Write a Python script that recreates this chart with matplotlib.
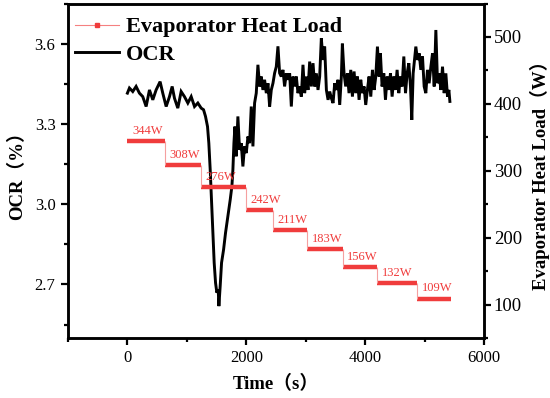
import matplotlib
matplotlib.use("Agg")
import matplotlib.pyplot as plt
from matplotlib.lines import Line2D
from matplotlib.ticker import MultipleLocator

# OCR trace
time_s = [0, 34, 90, 146, 202, 258, 315, 371, 427, 483, 550, 595, 652, 708, 753,
          792, 848, 904, 960, 1017, 1073, 1129, 1185, 1241, 1281, 1314, 1348, 1370,
          1393, 1415, 1438, 1460, 1483, 1505, 1528, 1539, 1561, 1584, 1618, 1651,
          1691, 1730, 1758, 1775, 1792, 1809, 1831, 1859, 1887, 1915, 1943, 1971,
          2000, 2028, 2056, 2084, 2112, 2140, 2168, 2196, 2224, 2252, 2280, 2308,
          2337, 2365, 2393, 2421, 2449, 2477, 2505, 2533, 2561, 2589, 2617, 2645,
          2674, 2702, 2730, 2758, 2786, 2814, 2842, 2870, 2898, 2926, 2954, 2982,
          3011, 3039, 3067, 3095, 3123, 3151, 3179, 3207, 3235, 3263, 3291, 3319,
          3348, 3376, 3404, 3432, 3460, 3488, 3516, 3544, 3572, 3600, 3617, 3645,
          3673, 3701, 3729, 3758, 3786, 3814, 3842, 3870, 3898, 3926, 3954, 3982,
          4010, 4038, 4066, 4095, 4123, 4151, 4179, 4207, 4235, 4257, 4285, 4314,
          4342, 4370, 4398, 4426, 4454, 4482, 4510, 4538, 4566, 4594, 4622, 4651,
          4679, 4707, 4735, 4763, 4785, 4808, 4836, 4853, 4881, 4909, 4937, 4965,
          4993, 5021, 5049, 5077, 5106, 5134, 5162, 5190, 5218, 5246, 5274, 5302,
          5330, 5358, 5386, 5409, 5426]
ocr = [3.415, 3.434, 3.421, 3.440, 3.415, 3.402, 3.365, 3.427, 3.390, 3.427, 3.458,
       3.415, 3.365, 3.402, 3.440, 3.396, 3.359, 3.421, 3.402, 3.378, 3.402, 3.365,
       3.378, 3.359, 3.353, 3.328, 3.290, 3.228, 3.129, 3.017, 2.893, 2.781, 2.706,
       2.669, 2.681, 2.619, 2.694, 2.781, 2.830, 2.893, 2.955, 3.017, 3.067, 3.129,
       3.228, 3.290, 3.179, 3.328, 3.203, 3.228, 3.141, 3.216, 3.191, 3.253, 3.228,
       3.365, 3.216, 3.378, 3.415, 3.521, 3.440, 3.477, 3.427, 3.465, 3.415, 3.452,
       3.365, 3.427, 3.452, 3.490, 3.514, 3.590, 3.490, 3.477, 3.502, 3.440, 3.489,
       3.465, 3.489, 3.365, 3.477, 3.440, 3.477, 3.415, 3.440, 3.402, 3.521, 3.415,
       3.477, 3.427, 3.533, 3.440, 3.527, 3.440, 3.489, 3.427, 3.477, 3.620, 3.539,
       3.589, 3.427, 3.390, 3.421, 3.396, 3.378, 3.452, 3.427, 3.465, 3.371, 3.477,
       3.600, 3.489, 3.440, 3.489, 3.415, 3.502, 3.402, 3.496, 3.415, 3.477, 3.390,
       3.465, 3.415, 3.440, 3.371, 3.427, 3.477, 3.402, 3.502, 3.427, 3.477, 3.589,
       3.477, 3.564, 3.440, 3.489, 3.390, 3.477, 3.427, 3.489, 3.402, 3.477, 3.427,
       3.502, 3.415, 3.477, 3.440, 3.552, 3.415, 3.489, 3.527, 3.440, 3.315, 3.489,
       3.552, 3.589, 3.539, 3.564, 3.502, 3.552, 3.440, 3.415, 3.502, 3.452, 3.514,
       3.564, 3.440, 3.651, 3.452, 3.489, 3.427, 3.514, 3.415, 3.489, 3.402, 3.427,
       3.384]

# evaporator heat load steps
step_edges = [0, 630, 1230, 1990, 2450, 3030, 3620, 4200, 4870, 5440]
heat_load = [344, 308, 276, 242, 211, 183, 156, 132, 109]
load_labels = ["344W", "308W", "276W", "242W", "211W", "183W", "156W", "132W", "109W"]

serif = ["Liberation Serif", "Noto Sans CJK SC"]
plt.rcParams["font.family"] = serif

fig = plt.figure(figsize=(5.5, 3.98), dpi=100)
ax = fig.add_axes([0.1236, 0.1508, 0.7564, 0.8404])
ax2 = ax.twinx()

ax.plot(time_s, ocr, color="black", lw=2.1, solid_joinstyle="miter")

red = "#f03c3c"
ax2.hlines(heat_load, step_edges[:-1], step_edges[1:], color=red, lw=3.2)
ax2.vlines(step_edges[1:-1], heat_load[1:], heat_load[:-1], color="#f5a0a0", lw=0.8)
for x0, load, lab in zip(step_edges[:-1], heat_load, load_labels):
    ax2.text(x0 + 80, load + 15, lab, color=red, fontsize=9, va="center", ha="left")

ax.set_xlim(-1000, 6000)
ax.set_ylim(2.5, 3.75)
ax2.set_ylim(50, 550)

ax.xaxis.set_major_locator(MultipleLocator(2000))
ax.xaxis.set_minor_locator(MultipleLocator(1000))
ax.yaxis.set_minor_locator(MultipleLocator(0.15))
ax.set_yticks([2.7, 3.0, 3.3, 3.6])
ax2.yaxis.set_minor_locator(MultipleLocator(50))
ax2.set_yticks([100, 200, 300, 400, 500])

for a in (ax, ax2):
    for s in a.spines.values():
        s.set_linewidth(1.8)
ax.tick_params(which="both", direction="out", width=1.6, top=False, right=False)
ax.tick_params(which="major", length=5, labelsize=12, pad=4)
ax.tick_params(which="minor", length=3)
ax2.tick_params(which="both", direction="out", width=1.6)
ax2.tick_params(which="major", length=5, labelsize=13.5, pad=2)
ax2.tick_params(which="minor", length=3)

ax.set_xlabel("Time（s）", fontsize=13.5, fontweight="bold", labelpad=6)
ax.set_ylabel("OCR（%）", fontsize=13.5, fontweight="bold", labelpad=6)
ax2.set_ylabel("Evaporator Heat Load（W）", fontsize=13.5, fontweight="bold", labelpad=6)

handles = [Line2D([], [], color="#f58080", lw=0.8, marker="s", ms=3,
                  markerfacecolor=red, markeredgecolor=red),
           Line2D([], [], color="black", lw=2.1)]
ax2.legend(handles, ["Evaporator Heat Load", "OCR"], loc="upper left", frameon=False,
           prop={"family": serif, "weight": "bold", "size": 16},
           bbox_to_anchor=(-0.005, 0.987), borderaxespad=0.0, handletextpad=0.3,
           labelspacing=0.3, handlelength=2.0)

fig.savefig("out.png", dpi=100)
